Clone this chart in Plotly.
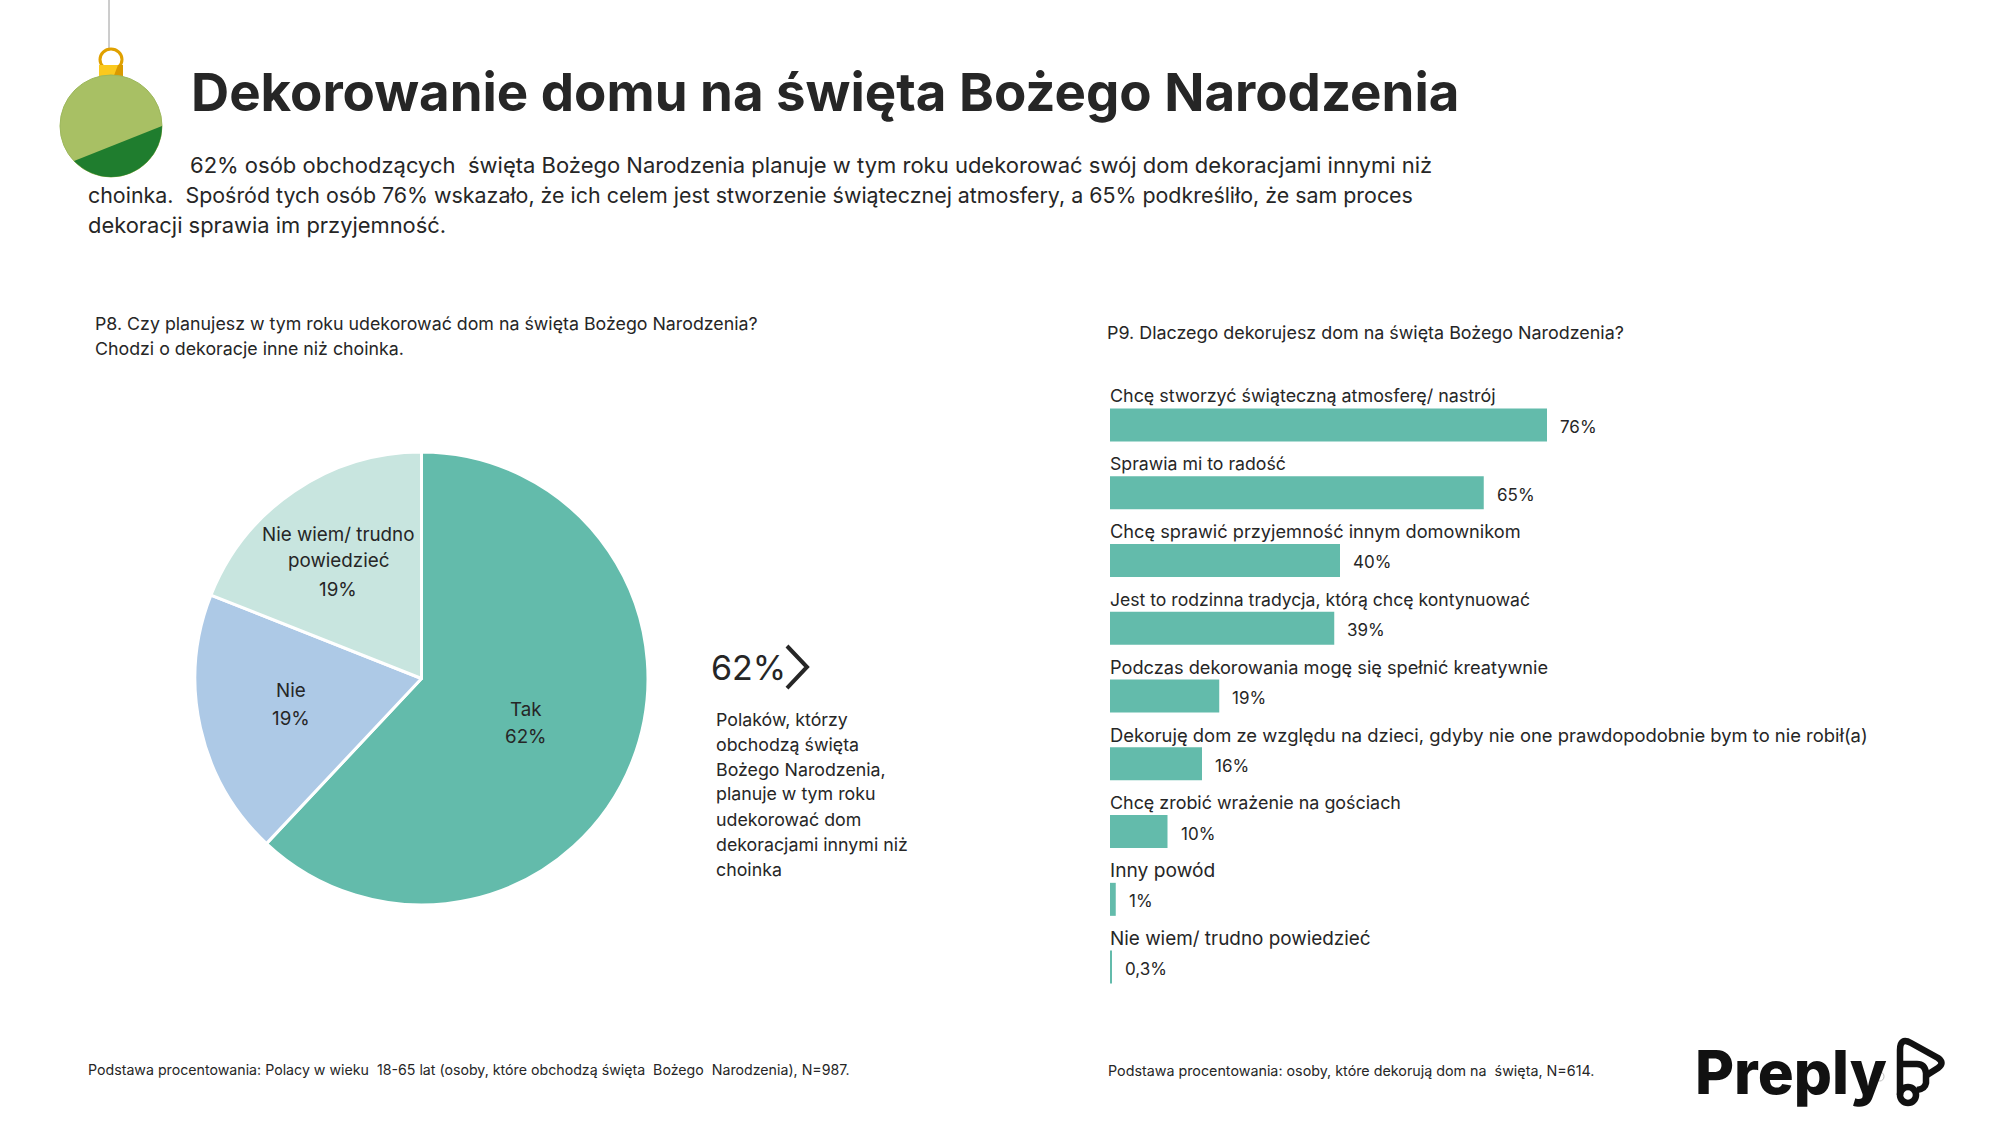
import plotly.graph_objects as go

FONT = "Inter"
DARK = "#262626"

pie_labels = ["Tak", "Nie", "Nie wiem/ trudno powiedzieć"]
pie_values = [62, 19, 19]
pie_colors = ["#63BBAB", "#ADC9E6", "#C8E5DF"]
pie_text_lines = [
    (526, 709, "Tak"), (526, 736, "62%"),
    (291, 690, "Nie"), (291, 718, "19%"),
    (338, 534, "Nie wiem/ trudno"), (338, 561, "powiedzieć"), (338, 589, "19%"),
]

bar_categories = [
    "Chcę stworzyć świąteczną atmosferę/ nastrój",
    "Sprawia mi to radość",
    "Chcę sprawić przyjemność innym domownikom",
    "Jest to rodzinna tradycja, którą chcę kontynuować",
    "Podczas dekorowania mogę się spełnić kreatywnie",
    "Dekoruję dom ze względu na dzieci, gdyby nie one prawdopodobnie bym to nie robił(a)",
    "Chcę zrobić wrażenie na gościach",
    "Inny powód",
    "Nie wiem/ trudno powiedzieć",
]
bar_values = [76, 65, 40, 39, 19, 16, 10, 1, 0.3]
bar_text = ["76%", "65%", "40%", "39%", "19%", "16%", "10%", "1%", "0,3%"]
category_sizes = [17.9, 17.7, 18.2, 17.6, 18.2, 18.4, 17.9, 19.2, 18.9]

title = "Dekorowanie domu na święta Bożego Narodzenia"
intro = [
    (189, 165, 22, "62% osób obchodzących  święta Bożego Narodzenia planuje w tym roku udekorować swój dom dekoracjami innymi niż"),
    (87, 195, 21.4, "choinka.  Spośród tych osób 76% wskazało, że ich celem jest stworzenie świątecznej atmosfery, a 65% podkreśliło, że sam proces"),
    (87, 225, 21.9, "dekoracji sprawia im przyjemność."),
]
q_left = ["P8. Czy planujesz w tym roku udekorować dom na święta Bożego Narodzenia?", "Chodzi o dekoracje inne niż choinka."]
q_right = "P9. Dlaczego dekorujesz dom na święta Bożego Narodzenia?"
big_num = "62%"
side_text = ["Polaków, którzy", "obchodzą święta", "Bożego Narodzenia,", "planuje w tym roku", "udekorować dom", "dekoracjami innymi niż", "choinka"]
foot_left = "Podstawa procentowania: Polacy w wieku  18-65 lat (osoby, które obchodzą święta  Bożego  Narodzenia), N=987."
foot_right = "Podstawa procentowania: osoby, które dekorują dom na  święta, N=614."
brand = "Preply"

W, H = 2000, 1125
def px(x): return x / W
def py(y): return 1 - y / H

fig = go.Figure()
fig.add_trace(go.Pie(
    labels=pie_labels, values=pie_values, textinfo="none", sort=False,
    direction="clockwise", rotation=0, showlegend=False,
    marker=dict(colors=pie_colors, line=dict(color="white", width=3)),
    domain=dict(x=[px(195), px(648)], y=[py(905), py(452)]),
))
fig.add_trace(go.Bar(
    x=bar_values, y=bar_categories, orientation="h", marker=dict(color="#63BBAB", line_width=0),
    cliponaxis=False, width=0.487, showlegend=False,
))

ann = []
def T(x, y, s, size=19, color=DARK, bold=False, anchor="left", weight=None):
    f = dict(family=FONT, size=size, color=color)
    if weight: f["weight"] = weight
    ann.append(dict(x=px(x), y=py(y), xref="paper", yref="paper", text=f"<b>{s}</b>" if bold else s,
                    showarrow=False, xanchor=anchor, yanchor="middle", font=f, borderpad=0))

T(190, 92, title, size=52.8, bold=True)
for x, y, size, s in intro:
    T(x, y, s, size=size)
T(94, 323, q_left[0], size=17.8)
T(94, 348, q_left[1], size=17.8)
T(1106, 332, q_right, size=17.9)
T(710, 667, big_num, size=34)
for i, s in enumerate(side_text):
    T(715, 719 + i * 25, s, size=17.8)
T(87, 1070, foot_left, size=14.2)
T(1107, 1070, foot_right, size=14.3)
T(1694, 1072, brand, size=60, color="#111111", weight=800)
for x, y, s in pie_text_lines:
    T(x, y, s, size=18.8, anchor="center")

for c, v, t, sz in zip(bar_categories, bar_values, bar_text, category_sizes):
    ann.append(dict(x=0, y=c, xref="x", yref="y", text=c, showarrow=False, xanchor="left", yanchor="middle",
                    yshift=29, xshift=-2, font=dict(family=FONT, size=sz, color=DARK)))
    ann.append(dict(x=v, y=c, xref="x", yref="y", text=t, showarrow=False, xanchor="left", yanchor="middle",
                    xshift=11, yshift=-2, font=dict(family=FONT, size=17, color=DARK)))

def P(path, **kw):
    toks = path.split()
    out, i = [], 0
    while i < len(toks):
        if toks[i].isalpha():
            out.append(toks[i]); i += 1
        else:
            out += [f"{px(float(toks[i])):.5f}", f"{py(float(toks[i+1])):.5f}"]; i += 2
    return dict(type="path", path=" ".join(out), xref="paper", yref="paper", **kw)
def C(x0, x1, y0, y1, **kw):
    return dict(type="circle", x0=px(x0), x1=px(x1), y0=py(y0), y1=py(y1), xref="paper", yref="paper", **kw)

INK = "#111111"
shapes = [
    P("M 109 0 L 109 48", line=dict(color="#9A9A9A", width=1)),
    C(100, 122, 49, 70, line=dict(color="#E0A100", width=3)),
    P("M 99 65 L 123 65 L 123 78 L 99 78 Z", fillcolor="#FBC91E", line_width=0),
    P("M 113 78 L 118 65 L 123 65 L 123 78 Z", fillcolor="#D99A00", line_width=0),
    C(60, 162, 75, 177, fillcolor="#A8C064", line=dict(color="#9DB85C", width=1)),
    P("M 74 161 L 162 126 C 162 154 139 177 111 177 C 97 177 84 171 74 161 Z", fillcolor="#1F7D2E", line_width=0),
    P("M 787 646 L 807 667 L 787 688", line=dict(color=DARK, width=4)),
    C(1876, 1884, 1072, 1081, line=dict(color="#BDBDBD", width=1)),
    P("M 1900 1095 L 1900 1050 Q 1900 1037 1911 1043 L 1938 1058 Q 1945 1063 1938 1068 L 1927 1075", line=dict(color=INK, width=6.5)),
    P("M 1900 1064 L 1917 1064 Q 1925 1064 1926 1073 L 1926 1083 Q 1925 1089 1917 1090", line=dict(color=INK, width=6.5)),
    C(1900, 1916, 1087, 1103, line=dict(color=INK, width=6.5)),
]

fig.update_layout(
    width=W, height=H, margin=dict(l=0, r=0, t=0, b=0), paper_bgcolor="white", plot_bgcolor="white",
    annotations=ann, shapes=shapes,
    xaxis=dict(domain=[px(1110), px(1685)], range=[0, 100], visible=False),
    yaxis=dict(domain=[py(1001), py(391)], range=[8.5, -0.5], visible=False, type="category",
               categoryorder="array", categoryarray=bar_categories),
)
fig.write_html("out.html", post_script="document.body.style.margin='0';", config=dict(displayModeBar=False))
